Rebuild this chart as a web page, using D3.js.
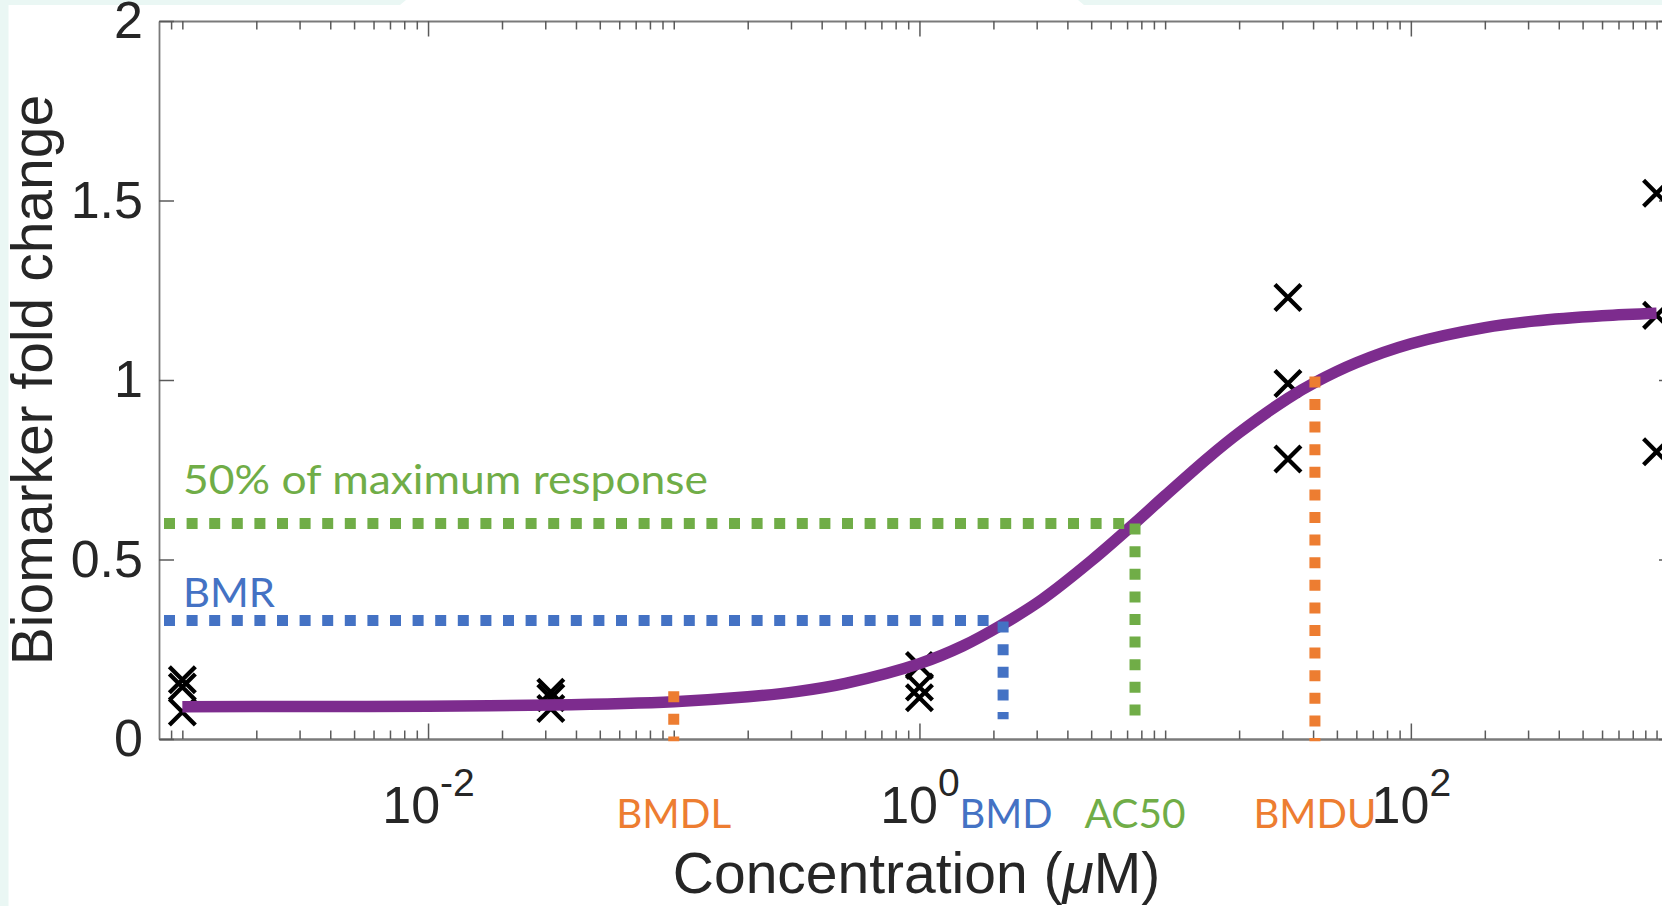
<!DOCTYPE html>
<html>
<head>
<meta charset="utf-8">
<script src="https://cdn.jsdelivr.net/npm/d3@7"></script>
<style>
  html, body { margin: 0; padding: 0; background: #ffffff; overflow: hidden; }
  svg { display: block; }
</style>
</head>
<body>
<svg id="chart" width="1662" height="906"></svg>
<script>
// ---- Measured biomarker response, three replicates per concentration (µM) ----
const concentrations = [0.001, 0.0316, 1, 31.6, 1000];
const replicateA = [0.165, 0.13, 0.205, 1.23, 1.52];
const replicateB = [0.145, 0.115, 0.145, 0.99, 1.18];
const replicateC = [0.075, 0.085, 0.115, 0.78, 0.80];

// ---- Fitted concentration–response curve ----
const curveConc = [0.001, 0.00316, 0.01, 0.0316, 0.1, 0.2, 0.316, 0.5, 1, 1.5, 2.19, 3.16, 5, 7.54, 10, 15, 20, 31.6, 40.7, 60, 100, 200, 316, 600, 1000];
const curveResp = [0.090, 0.0905, 0.0915, 0.0947, 0.104, 0.1175, 0.132, 0.155, 0.210, 0.259, 0.320, 0.389, 0.496, 0.602, 0.678, 0.784, 0.853, 0.949, 0.993, 1.048, 1.101, 1.146, 1.164, 1.179, 1.186];

// ---- Benchmark concentrations and their drop lines ----
const pointNames = ["BMDL", "BMD", "AC50", "BMDU"];
const pointConc = [0.1, 2.19, 7.54, 40.7];
const pointTop = [0.133, 0.327, 0.6, 1.01];
const pointBottom = [-0.006, 0.055, 0.055, -0.006];

// ---- Response levels ----
const levelNames = ["BMR", "50% of maximum response"];
const levelValues = [0.33, 0.6];
const levelEndConc = [2.19, 7.54];

// ---- Axis ticks ----
const yTicks = [0, 0.5, 1, 1.5, 2];
const yTickLabels = ["0", "0.5", "1", "1.5", "2"];
const xMajorTicks = [0.01, 1, 100];
const xTickExponents = ["-2", "0", "2"];

// ---- Layout ----
const plotLeft = 159, plotRight = 1674, plotTop = 21, plotBottom = 739;
const axisFont = "'Liberation Sans', Arial, Helvetica, sans-serif";
const noteFont = "Lato, 'Open Sans', sans-serif";
const textColor = "#262626";
const axisColor = "#7a7a7a";
const colors = { orange: "#ED7D31", blue: "#4472C4", green: "#70AD47", purple: "#7D2C8E" };
const pointColors = [colors.orange, colors.blue, colors.green, colors.orange];
const levelColors = [colors.blue, colors.green];

const svg = d3.select("#chart");

// page backdrop
svg.append("rect").attr("width", 1662).attr("height", 906).attr("fill", "#ffffff");
svg.append("rect").attr("x", 0).attr("y", 0).attr("width", 8.5).attr("height", 906).attr("fill", "#EAF7F4");
svg.append("path").attr("d", "M0,0H406L400,5H0Z").attr("fill", "#EAF7F4");
svg.append("path").attr("d", "M1078,0H1662V5H1084Z").attr("fill", "#EAF7F4");

const x = d3.scaleLog()
  .domain([Math.pow(10, -3.095), Math.pow(10, 3.071)])
  .range([plotLeft, plotRight]);
const y = d3.scaleLinear().domain([0, 2]).range([plotBottom, plotTop]);

const majorSet = new Set(xMajorTicks.map(v => Math.round(Math.log10(v))));
const minorTicks = x.ticks().filter(v => {
  const lg = Math.log10(v);
  return !(Math.abs(lg - Math.round(lg)) < 1e-9 && majorSet.has(Math.round(lg)));
});

function styleAxis(g) {
  g.attr("font-family", axisFont);
  g.select(".domain").attr("stroke", axisColor).attr("stroke-width", 1.8);
  g.selectAll(".tick line").attr("stroke", "#5a5a5a").attr("stroke-width", 1.5);
}

// bottom axis: minor + major ticks pointing inward
const gBottomMinor = svg.append("g").attr("transform", `translate(0,${plotBottom})`)
  .call(d3.axisBottom(x).tickValues(minorTicks).tickSizeInner(-8.5).tickSizeOuter(0).tickFormat(""));
styleAxis(gBottomMinor);
gBottomMinor.select(".domain").attr("stroke-width", 2.6);

const gBottom = svg.append("g").attr("transform", `translate(0,${plotBottom})`)
  .call(d3.axisBottom(x).tickValues(xMajorTicks).tickSizeInner(-15.5).tickSizeOuter(0));
styleAxis(gBottom);
gBottom.select(".domain").remove();
gBottom.selectAll(".tick text").each(function (d, i) {
  const t = d3.select(this);
  t.text(null).attr("y", 84).attr("dy", null)
    .attr("fill", textColor).attr("text-anchor", "middle");
  t.append("tspan").attr("font-size", 52).text("10");
  t.append("tspan").attr("font-size", 39).attr("dy", -27).text(xTickExponents[i]);
});

// top axis
const gTopMinor = svg.append("g").attr("transform", `translate(0,${plotTop})`)
  .call(d3.axisTop(x).tickValues(minorTicks).tickSizeInner(-8.5).tickSizeOuter(0).tickFormat(""));
styleAxis(gTopMinor);
const gTop = svg.append("g").attr("transform", `translate(0,${plotTop})`)
  .call(d3.axisTop(x).tickValues(xMajorTicks).tickSizeInner(-15.5).tickSizeOuter(0).tickFormat(""));
styleAxis(gTop);
gTop.select(".domain").remove();

// left axis
const gLeft = svg.append("g").attr("transform", `translate(${plotLeft},0)`)
  .call(d3.axisLeft(y).tickValues(yTicks).tickSizeInner(-15).tickSizeOuter(0).tickPadding(16)
    .tickFormat((d, i) => yTickLabels[i]));
styleAxis(gLeft);
gLeft.selectAll(".tick text").attr("font-size", 52).attr("fill", textColor);

// right axis (box)
const gRight = svg.append("g").attr("transform", `translate(${plotRight},0)`)
  .call(d3.axisRight(y).tickValues(yTicks).tickSizeInner(-15).tickSizeOuter(0).tickFormat(""));
styleAxis(gRight);

// axis titles
svg.append("text")
  .attr("x", (plotLeft + plotRight) / 2).attr("y", 893)
  .attr("text-anchor", "middle").attr("font-family", axisFont).attr("font-size", 57)
  .attr("fill", textColor)
  .call(t => {
    t.append("tspan").text("Concentration (");
    t.append("tspan").attr("font-style", "italic").text("\u03BC");
    t.append("tspan").text("M)");
  });
svg.append("text")
  .attr("transform", `translate(52,${(plotTop + plotBottom) / 2}) rotate(-90)`)
  .attr("text-anchor", "middle").attr("font-family", axisFont).attr("font-size", 57)
  .attr("fill", textColor)
  .text("Biomarker fold change");

// replicate measurements
const points = [];
[replicateA, replicateB, replicateC].forEach(rep => {
  rep.forEach((v, i) => points.push({ c: concentrations[i], r: v }));
});
svg.append("g").selectAll("path").data(points).join("path")
  .attr("transform", d => `translate(${x(d.c)},${y(d.r)})`)
  .attr("d", "M-13,-13L13,13M-13,13L13,-13")
  .attr("stroke", "#000").attr("stroke-width", 4.3).attr("fill", "none");

// fitted curve
const curveData = curveConc.map((c, i) => ({ c, r: curveResp[i] }));
svg.append("path")
  .datum(curveData)
  .attr("d", d3.line().x(d => x(d.c)).y(d => y(d.r)).curve(d3.curveCatmullRom.alpha(0.5)))
  .attr("fill", "none").attr("stroke", colors.purple).attr("stroke-width", 11.5)
  .attr("stroke-linecap", "butt");

// response levels (horizontal dotted lines)
const dash = "11 11.6";
levelValues.forEach((v, i) => {
  svg.append("line")
    .attr("x1", plotLeft + 5).attr("x2", x(levelEndConc[i]) - 4)
    .attr("y1", y(v)).attr("y2", y(v))
    .attr("stroke", levelColors[i]).attr("stroke-width", 11)
    .attr("stroke-dasharray", dash);
});

// drop lines to the concentration axis
pointConc.forEach((c, i) => {
  svg.append("line")
    .attr("x1", x(c)).attr("x2", x(c))
    .attr("y1", y(pointTop[i])).attr("y2", y(pointBottom[i]))
    .attr("stroke", pointColors[i]).attr("stroke-width", 11)
    .attr("stroke-dasharray", dash);
});

// annotation labels
function note(txt, xPos, yPos, anchor, color, width) {
  return svg.append("text")
    .attr("x", xPos).attr("y", yPos).attr("text-anchor", anchor)
    .attr("font-family", noteFont).attr("font-size", 41).attr("fill", color)
    .attr("textLength", width).attr("lengthAdjust", "spacingAndGlyphs")
    .text(txt);
}
const levelLabelY = [606.5, 494];
const levelLabelW = [92, 525];
levelNames.forEach((n, i) => note(n, 183, levelLabelY[i], "start", levelColors[i], levelLabelW[i]));

const pointLabelW = [115, 93, 101, 123];
const pointLabelDx = [0, 3, 0, 0];
pointNames.forEach((n, i) => note(n, x(pointConc[i]) + pointLabelDx[i], 828, "middle", pointColors[i], pointLabelW[i]));
</script>
</body>
</html>
